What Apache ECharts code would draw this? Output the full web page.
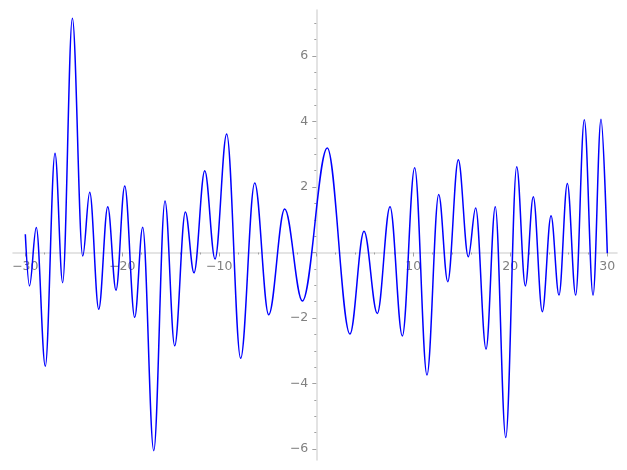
<!DOCTYPE html>
<html>
<head>
<meta charset="utf-8">
<script src="https://cdn.jsdelivr.net/npm/echarts@6/dist/echarts.min.js"></script>
<style>html,body{margin:0;padding:0;background:#fff}#c{width:627px;height:470px}</style>
</head>
<body>
<div id="c"></div>
<script>
// Curve turning points (x, y)
var xs = [-30, -29.57, -28.87, -27.94, -26.94, -26.15, -25.15, -24.08, -23.36, -22.43,
  -21.5, -20.65, -19.75, -18.72, -17.9, -16.76, -15.6, -14.6, -13.5, -12.61,
  -11.5, -10.44, -9.24, -7.8, -6.35, -4.91, -3.26, -1.44, 1.13, 3.47,
  4.92, 6.29, 7.6, 8.87, 10.14, 11.41, 12.62, 13.55, 14.64, 15.67,
  16.43, 17.5, 18.45, 19.53, 20.66, 21.55, 22.37, 23.3, 24.2, 25.02,
  25.88, 26.74, 27.63, 28.53, 29.35, 30];
var ys = [0.56, -1.02, 0.76, -3.47, 3.03, -0.92, 7.15, -0.11, 1.84, -1.73,
  1.40, -1.15, 2.03, -1.98, 0.77, -6.05, 1.57, -2.85, 1.24, -0.62,
  2.50, -0.2, 3.62, -3.23, 2.12, -1.9, 1.33, -1.48, 3.19, -2.49,
  0.65, -1.86, 1.40, -2.55, 2.59, -3.74, 1.77, -0.89, 2.83, -0.13,
  1.36, -2.95, 1.40, -5.65, 2.62, -1.02, 1.70, -1.81, 1.12, -1.30,
  2.11, -1.30, 4.05, -1.30, 4.07, -0.02];

var xLabels = [-30, -20, -10, 10, 20, 30];
var xMajorTicks = [-30, -20, -10, 0, 10, 20, 30];
var xMinorTicks = [-28, -26, -24, -22, -18, -16, -14, -12, -8, -6, -4, -2, 2, 4, 6, 8, 12, 14, 16, 18, 22, 24, 26, 28];
var yLabels = [-6, -4, -2, 2, 4, 6];
var yMajorTicks = [-6, -4, -2, 0, 2, 4, 6];
var yMinorTicks = [-5.5, -5, -4.5, -3.5, -3, -2.5, -1.5, -1, -0.5, 0.5, 1, 1.5, 2.5, 3, 3.5, 4.5, 5, 5.5, 6.5, 7];

var data = xs.map(function (x, i) { return [x, ys[i]]; });

function fmt(v) { return v < 0 ? '\u2212' + Math.abs(v) : String(v); }

var W = 627, H = 470;
var G = { left: 13, right: 10, top: 10, bottom: 10 };
var X_MIN = -31.27, X_MAX = 31.0, Y_MIN = -6.336, Y_MAX = 7.405;
var gw = W - G.left - G.right, gh = H - G.top - G.bottom;
// shift axes so they cross at the origin
var xOff = -gh * (0 - Y_MIN) / (Y_MAX - Y_MIN);
var yOff = -gw * (0 - X_MIN) / (X_MAX - X_MIN);

var axisCol = '#dcdcdc', tickCol = '#a0a0a0', labCol = '#808080';
var font = { fontFamily: 'DejaVu Sans', fontSize: 12.5, color: labCol };

var chart = echarts.init(document.getElementById('c'), null, { renderer: 'canvas' });
chart.setOption({
  animation: false,
  grid: { left: G.left, right: G.right, top: G.top, bottom: G.bottom, containLabel: false, outerBoundsMode: 'none' },
  xAxis: [{
    type: 'value', min: X_MIN, max: X_MAX, position: 'bottom', offset: xOff, splitLine: { show: false },
    axisLine: { show: true, onZero: false, lineStyle: { color: axisCol, width: 1.6 } },
    axisTick: { show: true, customValues: xMajorTicks, length: 4, lineStyle: { color: tickCol, width: 1 } },
    axisLabel: Object.assign({ show: true, customValues: xLabels, formatter: fmt, margin: 8 }, font)
  }, {
    type: 'value', min: X_MIN, max: X_MAX, position: 'bottom', offset: xOff, splitLine: { show: false },
    axisLine: { show: false, onZero: false },
    axisTick: { show: true, customValues: xMinorTicks, length: 2, lineStyle: { color: tickCol, width: 1 } },
    axisLabel: { show: false }
  }],
  yAxis: [{
    type: 'value', min: Y_MIN, max: Y_MAX, position: 'left', offset: yOff, splitLine: { show: false },
    axisLine: { show: true, onZero: false, lineStyle: { color: axisCol, width: 1.6 } },
    axisTick: { show: true, customValues: yMajorTicks, length: 4, lineStyle: { color: tickCol, width: 1 } },
    axisLabel: Object.assign({ show: true, customValues: yLabels, formatter: fmt, margin: 8 }, font)
  }, {
    type: 'value', min: Y_MIN, max: Y_MAX, position: 'left', offset: yOff, splitLine: { show: false },
    axisLine: { show: false, onZero: false },
    axisTick: { show: true, customValues: yMinorTicks, length: 2, lineStyle: { color: tickCol, width: 1 } },
    axisLabel: { show: false }
  }],
  series: [{
    type: 'line', data: data, xAxisIndex: 0, yAxisIndex: 0,
    smooth: 0.36, smoothMonotone: 'x', showSymbol: false, symbol: 'none', clip: false,
    lineStyle: { color: '#0000ff', width: 1.5 }
  }]
});
</script>
</body>
</html>
